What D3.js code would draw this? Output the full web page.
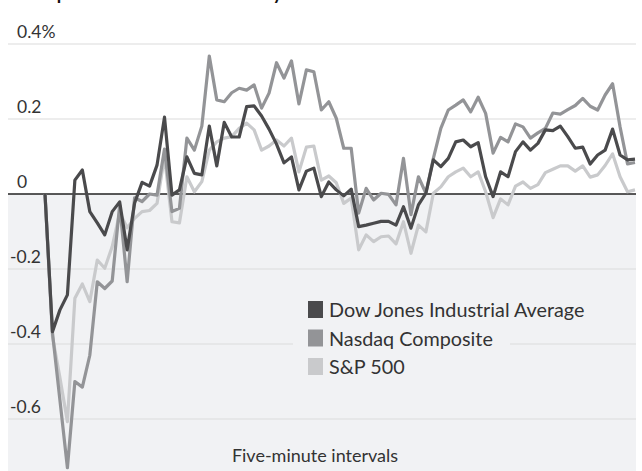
<!DOCTYPE html>
<html>
<head>
<meta charset="utf-8">
<script src="https://cdn.jsdelivr.net/npm/d3@7"></script>
<style>
  html, body { margin: 0; padding: 0; background: #fff; }
  svg { display: block; font-family: Lato, "Open Sans", sans-serif; }
</style>
</head>
<body>
<svg id="chart" width="642" height="471"></svg>
<script>
// ---- data ----
const title = "Index performance on Wednesday";
const xLabel = "Five-minute intervals";
const seriesNames = ["Dow Jones Industrial Average", "Nasdaq Composite", "S&P 500"];
const tickValues = [0.4, 0.2, 0, -0.2, -0.4, -0.6];
const tickLabels = ["0.4%", "0.2", "0", "-0.2", "-0.4", "-0.6"];

const dow = [0, -0.367, -0.309, -0.269, 0.037, 0.064, -0.047, -0.077, -0.109, -0.047,
  -0.021, -0.149, -0.024, 0.031, 0.021, 0.077, 0.205, -0.003, 0.011, 0.099,
  0.055, 0.051, 0.181, 0.075, 0.191, 0.152, 0.152, 0.233, 0.235, 0.208,
  0.173, 0.133, 0.083, 0.099, 0.011, 0.061, 0.069, -0.007, 0.032, 0.011,
  -0.005, 0.013, -0.087, -0.083, -0.078, -0.073, -0.073, -0.083, -0.034, -0.091,
  -0.029, 0.002, 0.091, 0.073, 0.095, 0.139, 0.144, 0.126, 0.137, 0.046,
  -0.007, 0.059, 0.046, 0.113, 0.139, 0.117, 0.135, 0.171, 0.169, 0.181,
  0.153, 0.122, 0.125, 0.080, 0.104, 0.117, 0.173, 0.104, 0.091, 0.093];

const nasdaq = [0, -0.37, -0.55, -0.73, -0.50, -0.515, -0.43, -0.234, -0.252, -0.232,
  -0.03, -0.234, -0.01, -0.02, 0.0, -0.003, 0.12, -0.047, -0.038, 0.149,
  0.117, 0.181, 0.368, 0.251, 0.246, 0.270, 0.282, 0.277, 0.291, 0.229,
  0.269, 0.350, 0.309, 0.355, 0.240, 0.331, 0.326, 0.224, 0.246, 0.202,
  0.122, 0.122, -0.051, 0.015, -0.016, 0.002, -0.001, -0.029, 0.095, -0.055,
  0.046, 0.002, 0.095, 0.175, 0.224, 0.237, 0.251, 0.219, 0.258, 0.215,
  0.109, 0.151, 0.139, 0.187, 0.179, 0.149, 0.163, 0.175, 0.216, 0.213,
  0.225, 0.236, 0.255, 0.234, 0.224, 0.264, 0.294, 0.179, 0.080, 0.084];

const sp500 = [0, -0.38, -0.49, -0.607, -0.278, -0.24, -0.287, -0.176, -0.198, -0.14,
  -0.05, -0.09, -0.065, -0.047, -0.044, -0.025, 0.10, -0.074, -0.077, 0.046,
  0.006, 0.033, 0.117, 0.139, 0.149, 0.153, 0.175, 0.189, 0.171, 0.117,
  0.128, 0.144, 0.128, 0.149, 0.059, 0.125, 0.128, 0.037, 0.048, 0.030,
  -0.025, -0.011, -0.149, -0.109, -0.127, -0.114, -0.112, -0.133, -0.074, -0.158,
  -0.083, -0.101, 0.002, 0.019, 0.046, 0.059, 0.069, 0.046, 0.059, 0.006,
  -0.063, -0.013, -0.029, 0.021, 0.032, 0.015, 0.025, 0.057, 0.066, 0.075,
  0.075, 0.061, 0.075, 0.045, 0.051, 0.076, 0.107, 0.046, 0.006, 0.011];

const colors = ["#4a4a4c", "#939497", "#c9cacc"];

// ---- layout ----
const W = 642, H = 471;
const left = 8, right = 636;
const svg = d3.select("#chart");

const x = d3.scaleLinear().domain([0, dow.length - 1]).range([45, 635]);
const y = d3.scaleLinear().domain([0, 0.4]).range([194, 44]);

// title (cropped at the top edge, as in the reference)
svg.append("text").attr("x", left).attr("y", -0.5)
  .attr("font-size", 18).attr("font-weight", 700).attr("fill", "#111")
  .text(title);

// negative shading
svg.append("rect").attr("x", left).attr("y", y(0))
  .attr("width", right - left).attr("height", H - y(0))
  .attr("fill", "#f1f2f4");

// gridlines
svg.append("g").selectAll("line").data(tickValues.filter(d => d !== 0)).join("line")
  .attr("x1", left).attr("x2", right)
  .attr("y1", d => y(d)).attr("y2", d => y(d))
  .attr("stroke", "#dcdcdc").attr("stroke-width", 1.2);

// tick labels
svg.append("g").selectAll("text").data(tickValues).join("text")
  .attr("x", d => d < 0 ? 10 : 17)
  .attr("y", d => y(d) - 6)
  .attr("font-size", 17.5).attr("fill", "#333")
  .text((d, i) => tickLabels[i]);

// legend
const lg = svg.append("g");
lg.append("rect").attr("x", 293).attr("y", 292).attr("width", 217).attr("height", 90)
  .attr("fill", "#f1f2f4");
seriesNames.forEach((name, i) => {
  lg.append("rect").attr("x", 308).attr("y", 301 + i * 28.5)
    .attr("width", 15).attr("height", 17).attr("fill", colors[i]);
  lg.append("text").attr("x", 329).attr("y", 317 + i * 28.5)
    .attr("font-size", 19.8).attr("fill", "#333").text(name);
});

// x label
svg.append("text").attr("x", 315).attr("y", 462).attr("text-anchor", "middle")
  .attr("font-size", 18).attr("fill", "#333").text(xLabel);

// zero line
svg.append("line").attr("x1", left).attr("x2", right)
  .attr("y1", y(0)).attr("y2", y(0))
  .attr("stroke", "#222").attr("stroke-width", 1.6);

// lines
const line = d3.line().x((d, i) => x(i)).y(d => y(d));
[[sp500, 2], [nasdaq, 1], [dow, 0]].forEach(([data, ci]) => {
  svg.append("path").datum(data).attr("d", line)
    .attr("fill", "none").attr("stroke", colors[ci])
    .attr("stroke-width", 3.2).attr("stroke-linejoin", "round");
});
</script>
</body>
</html>
